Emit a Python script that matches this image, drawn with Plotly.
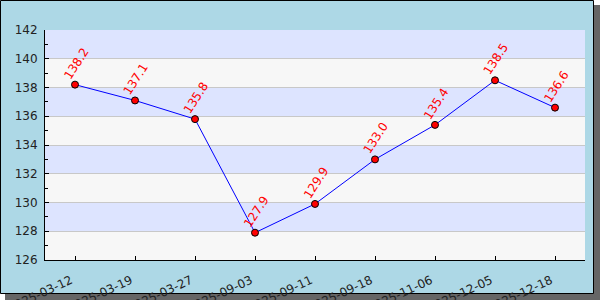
import plotly.graph_objects as go

dates = ["2025-03-12", "2025-03-19", "2025-03-27", "2025-09-03", "2025-09-11",
         "2025-09-18", "2025-11-06", "2025-12-05", "2025-12-18"]
values = [138.2, 137.1, 135.8, 127.9, 129.9, 133.0, 135.4, 138.5, 136.6]
y_min, y_max = 126, 142

FONT = "DejaVu Sans"
L, R, T, B = 45, 15, 30, 40
W, H = 600, 300
PW, PH = W - L - R, H - T - B

def px(x):
    return (x - L) / PW

def py(y):
    return (H - B - y) / PH

fig = go.Figure()
fig.add_trace(go.Scatter(
    x=dates, y=values, mode="lines+markers",
    line=dict(color="#0000ff", width=1),
    marker=dict(color="#ff0000", size=7, line=dict(color="black", width=1)),
    cliponaxis=False, hoverinfo="skip",
))

shapes = []
# shadow
shapes.append(dict(type="rect", xref="paper", yref="paper", layer="below",
                   x0=px(5), x1=px(600), y0=py(300), y1=py(5),
                   fillcolor="#666666", line=dict(width=0)))
# main box
shapes.append(dict(type="rect", xref="paper", yref="paper", layer="below",
                   x0=px(0.5), x1=px(593.5), y0=py(293.5), y1=py(0.5),
                   fillcolor="#add8e6", line=dict(color="black", width=1)))
# bands
for i, lo in enumerate(range(y_min, y_max, 2)):
    shapes.append(dict(type="rect", xref="paper", yref="y", layer="below",
                       x0=0, x1=1, y0=lo, y1=lo + 2,
                       fillcolor="#f7f7f7" if i % 2 == 0 else "#dde4ff",
                       line=dict(width=0)))

annotations = []
for d, v in zip(dates, values):
    annotations.append(dict(x=d, y=v, xref="x", yref="y", text=f"{v:.1f}",
                            showarrow=False, textangle=-57, xshift=1, yshift=21,
                            font=dict(family=FONT, size=12, color="#ff0000")))

fig.update_layout(
    width=W, height=H,
    margin=dict(l=L, r=R, t=T, b=B, pad=0, autoexpand=False),
    paper_bgcolor="white", plot_bgcolor="rgba(0,0,0,0)",
    showlegend=False,
    shapes=shapes, annotations=annotations,
    font=dict(family=FONT, size=12, color="#222222"),
)
fig.update_xaxes(
    type="category", range=[-0.5, len(dates) - 0.5], automargin=False,
    showgrid=False, showline=True, linecolor="black", linewidth=1,
    ticks="inside", ticklen=4, tickcolor="black", tickwidth=1,
    tickangle=-25, tickfont=dict(family=FONT, size=12, color="#222222"),
    ticklabelshift=-4, ticklabelstandoff=8,
    zeroline=False,
)
fig.update_yaxes(
    range=[y_min, y_max], dtick=2, tick0=0, automargin=False,
    showgrid=True, gridcolor="#c8c8c8", gridwidth=1,
    showline=True, linecolor="black", linewidth=1,
    ticks="inside", ticklen=4, tickcolor="black", tickwidth=1,
    minor=dict(dtick=1, ticks="inside", ticklen=3, tickcolor="black", showgrid=False),
    tickfont=dict(family=FONT, size=12, color="#222222"),
    ticklabelstandoff=4,
    zeroline=False,
)

fig.write_html("out.html")
